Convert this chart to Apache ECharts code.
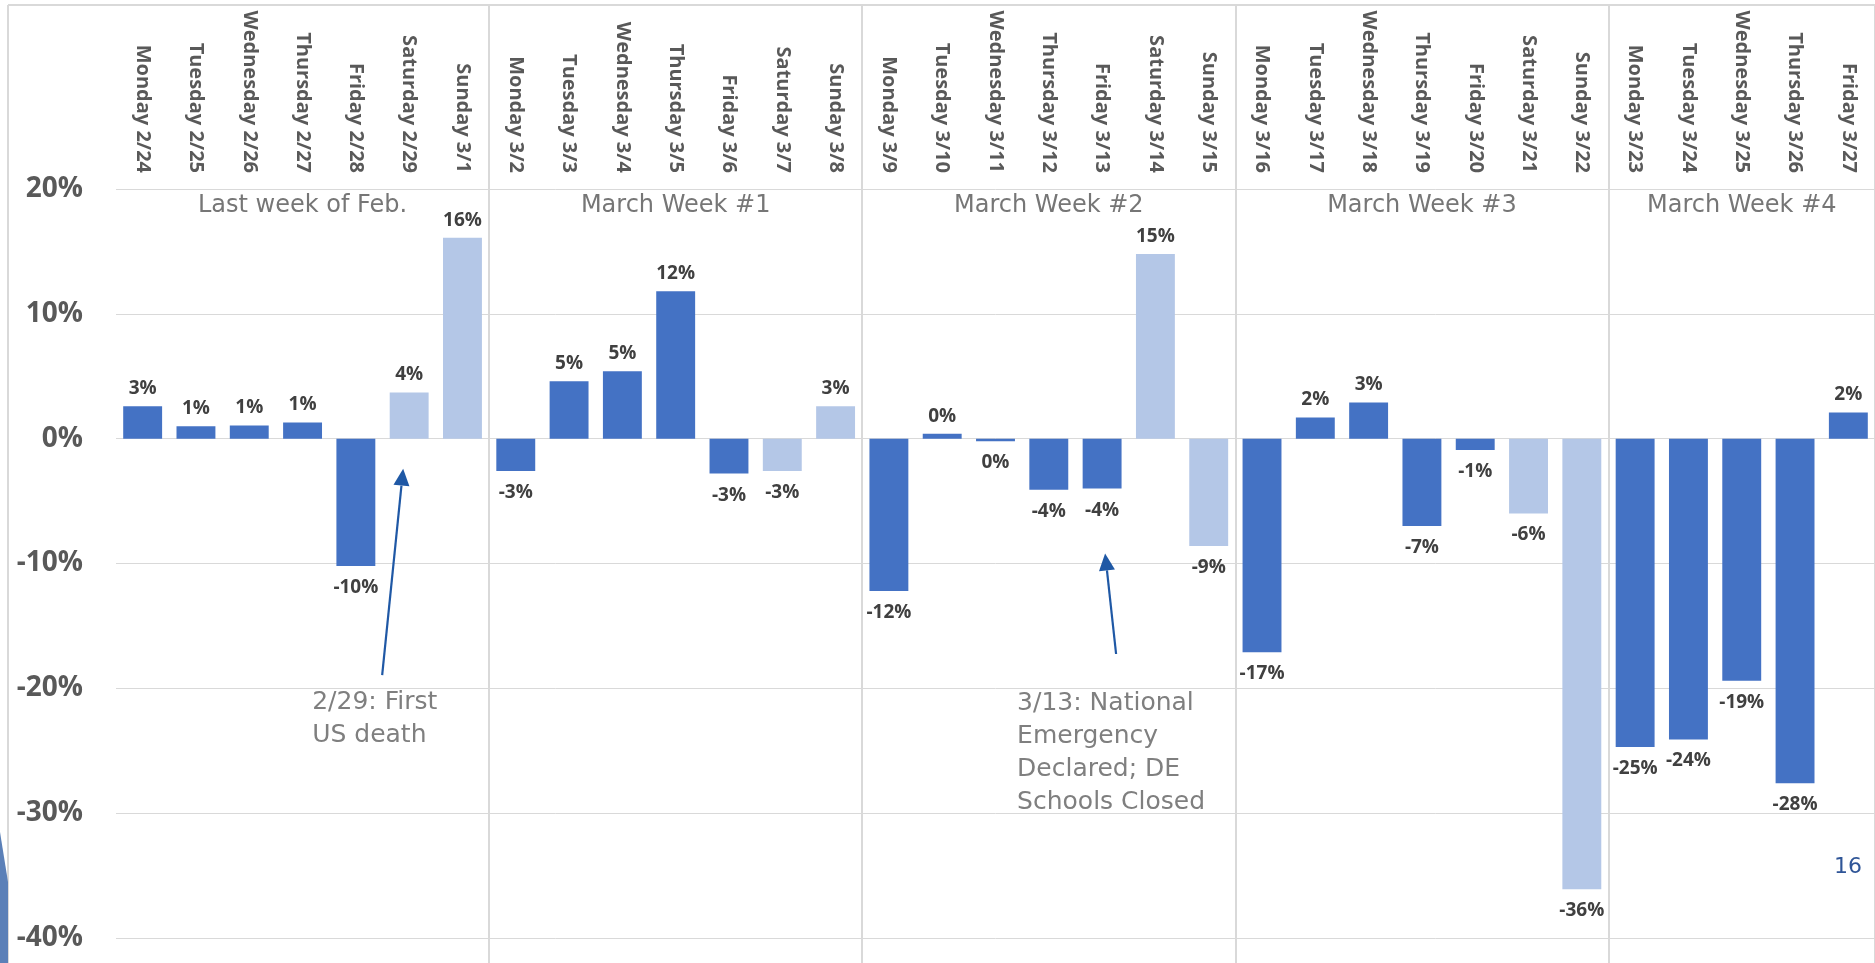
<!DOCTYPE html>
<html>
<head>
<meta charset="utf-8">
<script src="https://cdn.jsdelivr.net/npm/echarts@6/dist/echarts.min.js"></script>
<style>
html,body{margin:0;padding:0;background:#ffffff;}
#c{width:1875px;height:963px;}
</style>
</head>
<body>
<div id="c"></div>
<script>
// ---- data ----
const days = [
  'Monday 2/24','Tuesday 2/25','Wednesday 2/26','Thursday 2/27','Friday 2/28','Saturday 2/29','Sunday 3/1',
  'Monday 3/2','Tuesday 3/3','Wednesday 3/4','Thursday 3/5','Friday 3/6','Saturday 3/7','Sunday 3/8',
  'Monday 3/9','Tuesday 3/10','Wednesday 3/11','Thursday 3/12','Friday 3/13','Saturday 3/14','Sunday 3/15',
  'Monday 3/16','Tuesday 3/17','Wednesday 3/18','Thursday 3/19','Friday 3/20','Saturday 3/21','Sunday 3/22',
  'Monday 3/23','Tuesday 3/24','Wednesday 3/25','Thursday 3/26','Friday 3/27'
];
const changes = [
  2.6, 1.0, 1.05, 1.3, -10.2, 3.7, 16.1,
  -2.6, 4.6, 5.4, 11.8, -2.8, -2.6, 2.6,
  -12.2, 0.4, -0.2, -4.1, -4.0, 14.8, -8.6,
  -17.1, 1.7, 2.9, -7.0, -0.9, -6.0, -36.1,
  -24.7, -24.1, -19.4, -27.6, 2.1
];
const weekNames = ['Last week of Feb.', 'March Week #1', 'March Week #2', 'March Week #3', 'March Week #4'];
const weekLengths = [7, 7, 7, 7, 5];
const yMin = -40, yMax = 20, yStep = 10;
const annotations = [
  {day: 'Saturday 2/29', tipValue: -2.4, tailValue: -18.95, tipDx: -6, tailDx: -27,
   text: '2/29: First\nUS death', textDx: -70, textDy: 11},
  {day: 'Friday 3/13', tipValue: -9.2, tailValue: -17.25, tipDx: 3, tailDx: 14,
   text: '3/13: National\nEmergency\nDeclared; DE\nSchools Closed', textDx: -99, textDy: 33}
];
const pageNumber = '16';

// ---- derived ----
const weekStarts = [];
const weekMids = [];
let acc = 0;
weekLengths.forEach(n => { weekStarts.push(acc); weekMids.push(acc + Math.floor(n / 2)); acc += n; });

const DARK = '#4472C4', LIGHT = '#B4C7E7';
const seriesData = changes.map((v, i) => ({
  value: v,
  itemStyle: {color: /^(Saturday|Sunday)/.test(days[i]) ? LIGHT : DARK},
  label: {position: v >= 0 ? 'top' : 'bottom', distance: v >= 0 ? 8 : 12}
}));

const chart = echarts.init(document.getElementById('c'), null, {renderer: 'canvas'});

const option = {
  backgroundColor: '#ffffff',
  animation: false,
  grid: [
    {left: 116, right: 0, top: 189, bottom: 25},
    {left: 116, right: 0, top: 5, bottom: 0}
  ],
  xAxis: [
    {
      type: 'category', gridIndex: 0, position: 'top', data: days,
      axisLine: {show: false}, axisTick: {show: false}, splitLine: {show: false},
      axisLabel: {
        interval: 0, rotate: -90, margin: 16,
        fontFamily: 'Open Sans', fontWeight: 'bold', fontSize: 20, color: '#595959'
      }
    },
    {
      type: 'category', gridIndex: 0, position: 'top', data: days,
      axisLine: {show: false}, axisTick: {show: false}, splitLine: {show: false},
      axisLabel: {
        inside: true, margin: 5,
        interval: (idx) => weekMids.indexOf(idx) >= 0,
        formatter: (val, idx) => weekNames[weekMids.indexOf(idx)] || '',
        fontFamily: 'DejaVu Sans', fontSize: 24, color: '#767676'
      }
    },
    {
      type: 'category', gridIndex: 1, data: days,
      axisLine: {show: false}, axisTick: {show: false}, axisLabel: {show: false},
      splitLine: {
        show: true,
        interval: (idx) => idx > 0 && weekStarts.indexOf(idx) >= 0,
        lineStyle: {color: '#d9d9d9', width: 2}
      }
    }
  ],
  yAxis: [
    {
      type: 'value', gridIndex: 0, min: yMin, max: yMax, interval: yStep,
      axisLine: {show: false}, axisTick: {show: false},
      splitLine: {show: true, lineStyle: {color: '#d9d9d9', width: 1}},
      axisLabel: {
        formatter: '{value}%', margin: 33,
        fontFamily: 'Open Sans', fontWeight: 'bold', fontSize: 28, color: '#595959'
      }
    },
    {type: 'value', gridIndex: 1, show: false}
  ],
  series: [
    {
      type: 'bar', xAxisIndex: 0, yAxisIndex: 0,
      barWidth: '73%',
      data: seriesData,
      label: {
        show: true,
        formatter: (p) => Math.round(p.value) + '%',
        fontFamily: 'Open Sans', fontWeight: 'bold', fontSize: 19, color: '#404040'
      }
    }
  ]
};
chart.setOption(option);

// ---- decorations / annotations ----
function px(day, val) { return chart.convertToPixel({gridIndex: 0}, [day, val]); }
const ARROW = '#1f58a5';
const graphics = [];
graphics.push({type: 'line', shape: {x1: 8, y1: 5, x2: 1875, y2: 5}, style: {stroke: '#d9d9d9', lineWidth: 2}, silent: true});
graphics.push({type: 'line', shape: {x1: 8, y1: 5, x2: 8, y2: 963}, style: {stroke: '#d9d9d9', lineWidth: 2}, silent: true});
graphics.push({type: 'polygon', shape: {points: [[0, 832], [8, 882], [8, 963], [0, 963]]}, style: {fill: '#5b80b8'}, silent: true});

annotations.forEach(a => {
  const t = px(a.day, a.tipValue); t[0] += a.tipDx;
  const s = px(a.day, a.tailValue); s[0] += a.tailDx;
  const dx = t[0] - s[0], dy = t[1] - s[1];
  const len = Math.sqrt(dx * dx + dy * dy);
  const ux = dx / len, uy = dy / len;
  const headLen = 17, headHalf = 8;
  const bx = t[0] - ux * headLen, by = t[1] - uy * headLen;
  const nx = -uy, ny = ux;
  graphics.push({type: 'line', shape: {x1: s[0], y1: s[1], x2: bx, y2: by}, style: {stroke: ARROW, lineWidth: 2.2}, silent: true});
  graphics.push({type: 'polygon', shape: {points: [[t[0], t[1]], [bx + nx * headHalf, by + ny * headHalf], [bx - nx * headHalf, by - ny * headHalf]]}, style: {fill: ARROW}, silent: true});
  graphics.push({
    type: 'text', x: s[0] + a.textDx, y: s[1] + a.textDy, silent: true,
    style: {text: a.text, fill: '#7f7f7f', font: '25px "DejaVu Sans"', lineHeight: 33, textVerticalAlign: 'top'}
  });
});

graphics.push({
  type: 'text', x: 1848, y: 867, silent: true,
  style: {text: pageNumber, fill: '#2f5597', font: '22px "DejaVu Sans"', textAlign: 'center', textVerticalAlign: 'middle'}
});

chart.setOption({graphic: graphics});
</script>
</body>
</html>
